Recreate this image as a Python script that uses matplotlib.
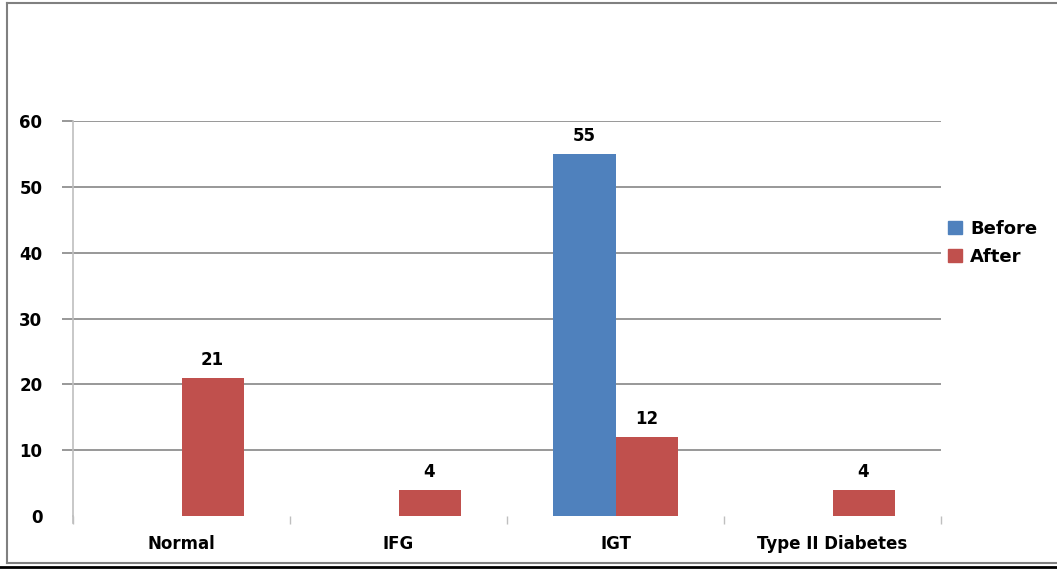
import matplotlib
matplotlib.use('Agg')
import matplotlib.pyplot as plt
import numpy as np
from matplotlib.lines import Line2D

# data
categories = ['Normal', 'IFG', 'IGT', 'Type II Diabetes']
before = [0, 0, 55, 0]
after = [21, 4, 12, 4]
yticks = [0, 10, 20, 30, 40, 50, 60]

blue = '#4F81BD'
red = '#C0504D'
grid_col = '#868686'
axis_col = '#BFBFBF'

plt.rcParams['font.family'] = ['DejaVu Sans']
plt.rcParams['font.weight'] = 'bold'

fig = plt.figure(figsize=(10.57, 5.69), dpi=100)
ax = fig.add_axes([73/1057, 53/569, 868/1057, 395/569])

x = np.arange(len(categories))
w = 0.286
ax.bar(x - w/2, before, w, color=blue, label='Before', zorder=3)
ax.bar(x + w/2, after, w, color=red, label='After', zorder=3)

# value labels (only non-zero)
for i in range(len(categories)):
    if before[i] > 0:
        ax.annotate(str(before[i]), (x[i] - w/2, before[i]), xytext=(0, 9),
                    textcoords='offset pixels', ha='center', va='bottom',
                    fontsize=12, fontweight='bold')
    if after[i] > 0:
        ax.annotate(str(after[i]), (x[i] + w/2, after[i]), xytext=(0, 9),
                    textcoords='offset pixels', ha='center', va='bottom',
                    fontsize=12, fontweight='bold')

ax.set_xlim(-0.5, len(categories) - 0.5)
ax.set_ylim(0, 60)
ax.set_yticks(yticks)
ax.yaxis.grid(True, color=grid_col, linewidth=1.2, zorder=0)
ax.set_axisbelow(True)

for s in ['top', 'right', 'bottom']:
    ax.spines[s].set_visible(False)
ax.spines['left'].set_color(axis_col)
ax.spines['left'].set_linewidth(1.2)

ax.set_xticks(x)
ax.set_xticklabels(categories, fontsize=12, fontweight='bold')
ax.set_xticks(np.arange(-0.5, len(categories)), minor=True)
ax.tick_params(axis='x', which='major', length=0, pad=14)
ax.tick_params(axis='x', which='minor', length=6, color=axis_col, width=1)
ax.tick_params(axis='y', length=8, color=grid_col, width=1.2, pad=14,
               labelsize=12)
for lab in ax.get_yticklabels():
    lab.set_fontweight('bold')

# no gridline / tick at zero
fig.canvas.draw()
ax.yaxis.get_gridlines()[0].set_visible(False)
ax.yaxis.get_major_ticks()[0].tick1line.set_visible(False)

# left axis line extends below the axis
ax.add_line(Line2D([-0.5, -0.5], [0, -1.0], color=axis_col, linewidth=1.2,
                   clip_on=False))

handles = [plt.Rectangle((0, 0), 1, 1, color=blue),
           plt.Rectangle((0, 0), 1, 1, color=red)]
fig.legend(handles, ['Before', 'After'], loc='center left',
           bbox_to_anchor=(932/1057, 1 - 243/569), frameon=False,
           handlelength=0.75, handleheight=0.75,
           handletextpad=0.45, labelspacing=0.55,
           prop={'weight': 'bold', 'size': 13})

# outer frame
fig.add_artist(Line2D([7/1057, 7/1057], [1 - 3/569, 1 - 563/569],
                      color='#808080', linewidth=1.5, transform=fig.transFigure))
fig.add_artist(Line2D([7/1057, 1], [1 - 3/569, 1 - 3/569],
                      color='#808080', linewidth=1.5, transform=fig.transFigure))
fig.add_artist(Line2D([7/1057, 1], [1 - 563/569, 1 - 563/569],
                      color='#808080', linewidth=1.5, transform=fig.transFigure))
fig.add_artist(Line2D([0, 1], [1 - 567/569, 1 - 567/569],
                      color='black', linewidth=2, transform=fig.transFigure))

fig.savefig('out.png', dpi=100)
